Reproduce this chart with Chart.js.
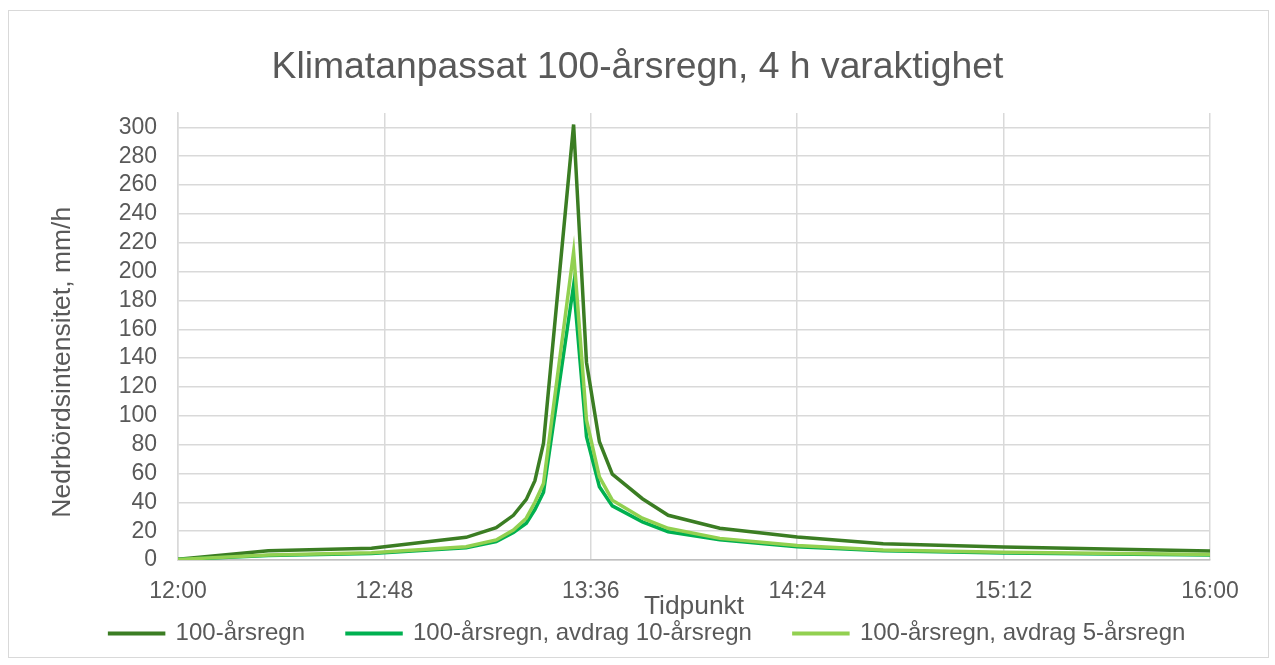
<!DOCTYPE html>
<html><head><meta charset="utf-8">
<script src="https://cdn.jsdelivr.net/npm/chart.js@4.4.1/dist/chart.umd.min.js"></script>
<style>
html,body{margin:0;padding:0;background:#fff;}
#wrap{position:relative;width:1275px;height:665px;overflow:hidden;}
#frame{position:absolute;left:8px;top:10px;width:1261px;height:648px;border:1px solid #d9d9d9;box-sizing:border-box;}
canvas{position:absolute;left:0;top:0;}
</style></head><body>
<div id="wrap"><div id="frame"></div><canvas id="c" width="1275" height="665"></canvas></div>
<script>
// time in minutes after 12:00
const times = [0, 21, 45, 67, 74, 78, 81, 83, 85, 92, 95, 98, 101, 108, 114, 126, 144, 164, 192, 240];
const rain100 = [0.5, 6.4, 8.1, 15.7, 22.4, 31, 42, 55, 81, 302, 137, 82, 59.5, 42.5, 31, 22, 16, 11.3, 9, 6.3];
const rain100minus10 = [0.3, 3.2, 4.5, 8.5, 12.7, 19, 25.5, 35, 47, 190.5, 85.5, 50.8, 37.5, 26.5, 19.6, 14, 9.2, 6.4, 4.9, 3.5];
const rain100minus5 = [0.4, 3.5, 5, 9.2, 13.9, 20.8, 29, 40, 53, 213.5, 97, 57.7, 41.5, 29, 22, 15, 10, 6.9, 5.3, 3.9];
const seriesNames = ['100-årsregn', '100-årsregn, avdrag 10-årsregn', '100-årsregn, avdrag 5-årsregn'];
const xTickMinutes = [0, 48, 96, 144, 192, 240];
const yTickValues = [0, 20, 40, 60, 80, 100, 120, 140, 160, 180, 200, 220, 240, 260, 280, 300];
const chartTitle = 'Klimatanpassat 100-årsregn, 4 h varaktighet';
const xTitle = 'Tidpunkt';
const yTitle = 'Nedrbördsintensitet, mm/h';

const toPts = arr => arr.map((v, i) => ({x: times[i], y: v}));
const fmtTime = m => { const h = 12 + Math.floor(m / 60); const mm = Math.round(m % 60); return h + ':' + String(mm).padStart(2, '0'); };

Chart.defaults.font.family = "'Liberation Sans', Arial, sans-serif";
Chart.defaults.color = '#595959';

const text = '#595959';
const gridC = '#d9d9d9';

// shift the legend row slightly to the right, as in the original
const legendShift = {
  id: 'legendShift',
  afterLayout(chart) { const lg = chart.legend; if (lg) { lg.left += 20; lg.width -= 20; } }
};

new Chart(document.getElementById('c'), {
  type: 'line',
  plugins: [legendShift],
  data: {
    datasets: [
      {label: seriesNames[0], data: toPts(rain100), borderColor: '#3b7d23', backgroundColor: '#3b7d23', borderWidth: 3.5, pointRadius: 0, tension: 0, order: 2},
      {label: seriesNames[1], data: toPts(rain100minus10), borderColor: '#00b050', backgroundColor: '#00b050', borderWidth: 3.5, pointRadius: 0, tension: 0, order: 1},
      {label: seriesNames[2], data: toPts(rain100minus5), borderColor: '#92d050', backgroundColor: '#92d050', borderWidth: 3.5, pointRadius: 0, tension: 0, order: 0}
    ]
  },
  options: {
    responsive: false,
    animation: false,
    devicePixelRatio: 1,
    layout: {padding: {left: 0, right: 0, top: 0, bottom: 9.5}},
    plugins: {
      tooltip: {enabled: false},
      title: {display: true, text: chartTitle, color: text, font: {size: 37.3, weight: 'normal'}, padding: {top: 45, bottom: 23.2}},
      legend: {
        position: 'bottom',
        labels: {boxWidth: 54, boxHeight: 0.5, padding: 42, color: text, font: {size: 24},
          sort: (a, b) => a.datasetIndex - b.datasetIndex}
      }
    },
    scales: {
      x: {
        type: 'linear', min: 0, max: 240,
        afterBuildTicks: s => { s.ticks = xTickMinutes.map(v => ({value: v})); },
        ticks: {callback: v => fmtTime(v), color: text, font: {size: 23}, padding: 17.4, maxRotation: 0, autoSkip: false},
        grid: {color: gridC, lineWidth: 1.5, drawTicks: false},
        border: {color: '#bfbfbf', width: 1.5},
        title: {display: true, text: xTitle, color: text, font: {size: 26.4}, padding: {top: 0, bottom: -43}},
        afterFit: s => { s.height = 19.5; s._computeLabelArea = () => undefined; }
      },
      y: {
        type: 'linear', min: 0, max: 310,
        afterBuildTicks: s => { s.ticks = yTickValues.map(v => ({value: v})); },
        ticks: {color: text, font: {size: 23}, padding: 21, autoSkip: false},
        grid: {color: gridC, lineWidth: 1.5, drawTicks: false},
        border: {color: gridC, width: 1.5},
        title: {display: true, text: yTitle + '\u00a0\u00a0\u00a0\u00a0\u00a0\u00a0\u00a0', color: text, font: {size: 26.5}, padding: {top: 47.2, bottom: 0}},
        afterFit: s => { s.width = 178; }
      },
      y2: {
        type: 'linear', position: 'right', display: true,
        grid: {display: false, drawTicks: false}, ticks: {display: false}, border: {display: false},
        afterFit: s => { s.width = 65; }
      }
    }
  }
});
</script>
</body></html>
